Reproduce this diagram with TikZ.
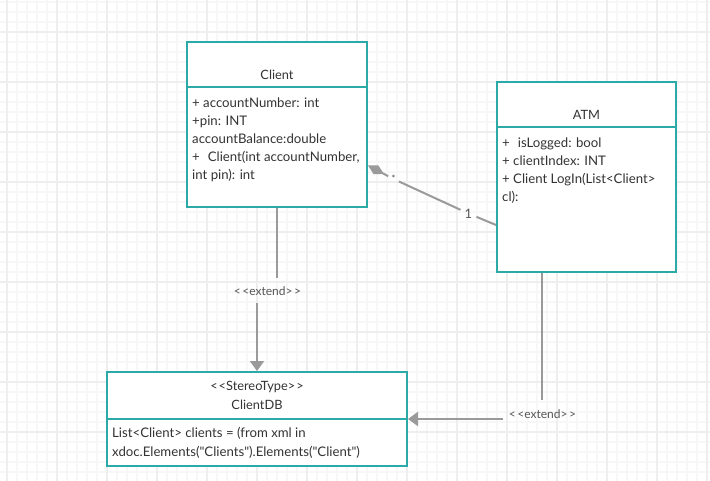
\documentclass[tikz,border=0pt]{standalone}
\usepackage{fontspec}
\setmainfont{Lato}[Ligatures=TeXOff]
\usetikzlibrary{arrows.meta,calc}
\definecolor{umlteal}{HTML}{2BAAA8}
\definecolor{connGray}{HTML}{9A9A9A}
\definecolor{txtGray}{HTML}{333333}
\definecolor{lblGray}{HTML}{555555}
\definecolor{minorGrid}{HTML}{F7F7F7}
\definecolor{majorGrid}{HTML}{EEEEEE}
\tikzset{
  umlbox/.style={draw=umlteal, line width=2pt, fill=white, inner sep=0pt},
  divider/.style={draw=umlteal, line width=2pt},
  txt/.style={text=txtGray, font=\fontsize{13.2}{15}\selectfont, inner sep=0pt},
  ttl/.style={text=txtGray, font=\fontsize{12.8}{15}\selectfont, inner sep=0pt},
  lbl/.style={text=lblGray, font=\fontsize{12}{13}\selectfont, inner sep=0pt},
  conn/.style={draw=connGray, line width=2pt},
  minorline/.style={draw=minorGrid, line width=1.2pt},
  majorline/.style={draw=majorGrid, line width=2pt},
}
\begin{document}
\begin{tikzpicture}[x=1pt,y=-1pt]
\useasboundingbox (0,0) rectangle (710,481);
\fill[white] (0,0) rectangle (710,481);
% grid
\foreach \x in {7,17,...,707} \draw[minorline] (\x,0) -- (\x,481);
\foreach \y in {2,12,...,480} \draw[minorline] (0,\y) -- (710,\y);
\foreach \x in {7,57,...,707} \draw[majorline] (\x,0) -- (\x,481);
\foreach \y in {32,82,...,480} \draw[majorline] (0,\y) -- (710,\y);

% Client
\node[umlbox, minimum width=180pt, minimum height=165pt] (client) at (277,124.5) {};
\draw[divider] ($(client.north west)+(0,46.5)$) -- ($(client.north east)+(0,46.5)$);
\node[ttl, anchor=base] (clientTitle) at (277,80) {Client};
\node[txt, anchor=base west] (c1) at (192,108) {+ accountNumber: int};
\node[txt, anchor=base west] (c2) at (192,126) {+pin: INT};
\node[txt, anchor=base west] (c3) at (192,144) {accountBalance:double};
\node[txt, anchor=base west] (c4) at (192,162) {+\hspace{8pt}Client(int accountNumber,};
\node[txt, anchor=base west] (c5) at (192,180) {int pin): int};

% ATM
\node[umlbox, minimum width=179pt, minimum height=190pt] (atm) at (586.5,177) {};
\draw[divider] ($(atm.north west)+(0,46)$) -- ($(atm.north east)+(0,46)$);
\node[ttl, anchor=base] (atmTitle) at (586.5,120) {ATM};
\node[txt, anchor=base west] (a1) at (502,148) {+\hspace{8pt}isLogged: bool};
\node[txt, anchor=base west] (a2) at (502,166) {+ clientIndex: INT};
\node[txt, anchor=base west] (a3) at (502,184) {+ Client LogIn(List<Client>};
\node[txt, anchor=base west] (a4) at (502,202) {cl):};

% ClientDB
\node[umlbox, minimum width=300pt, minimum height=94pt] (db) at (257,419) {};
\draw[divider] (db.west) -- (db.east);
\node[ttl, anchor=base] (dbStereo) at (257,390) {<\kern1pt<StereoType>\kern1pt>};
\node[ttl, anchor=base] (dbTitle) at (257,409) {ClientDB};
\node[txt, anchor=base west] (d1) at (112,437) {List<Client> clients = (from xml in};
\node[txt, anchor=base west] (d2) at (112,456) {xdoc.Elements("Clients").Elements("Client")};

% Client -> ClientDB extend
\coordinate (e1top) at (277,278);
\coordinate (e1bot) at (257,303);
\node[lbl, anchor=base] (ext1) at (267.5,295.5) {<\kern1.5pt<extend>\kern1.5pt>};
\draw[conn] (client.south) -- (e1top);
\draw[conn, -{Triangle[length=10pt,width=14pt]}] (e1bot) -- (db.north);

% ATM -> ClientDB extend
\coordinate (x542) at (542,0);
\coordinate (f1) at (542,400);
\coordinate (f2) at (503,419);
\node[lbl, anchor=base] (ext2) at (542.5,418) {<\kern1.5pt<extend>\kern1.5pt>};
\draw[conn] (atm.south -| x542) -- (f1);
\draw[conn, -{Triangle[length=10pt,width=14pt]}] (f2) -- (db.east);

% composition Client <>-- ATM
\coordinate (cs) at ($(client.east)+(0,41)$);
\coordinate (ce) at ($(atm.west)+(0,48)$);
\node[lbl, font=\fontsize{10}{11}\selectfont, inner sep=3pt] (star) at (393.5,179) {*};
\node[lbl, font=\fontsize{13}{14}\selectfont, inner sep=4pt] (one) at (468.5,213.5) {1};
\draw[conn, {Diamond[length=18pt,width=10pt]}-] (cs) -- (star);
\draw[conn] (star) -- (one);
\draw[conn] (one) -- (ce);
\end{tikzpicture}
\end{document}
